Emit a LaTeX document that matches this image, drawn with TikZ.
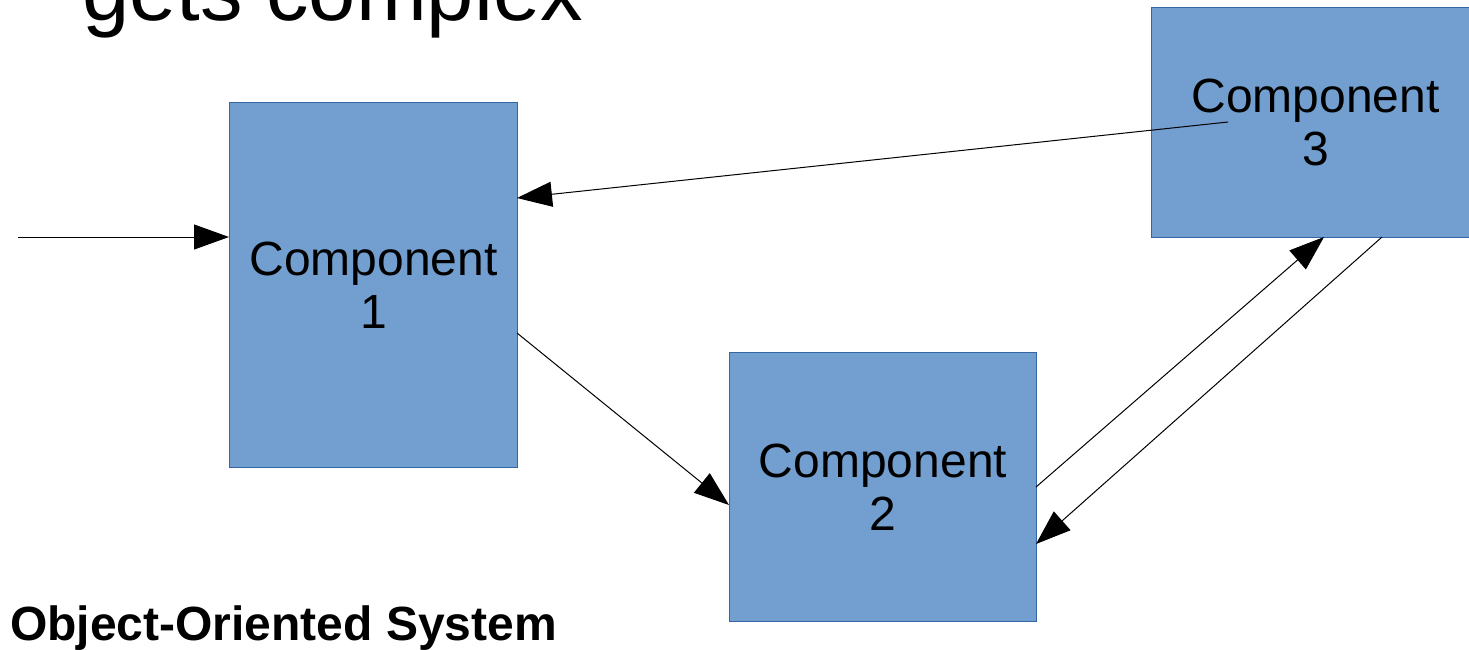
\documentclass[tikz,border=0pt]{standalone}
\usepackage{fontspec}
\setmainfont{Liberation Sans}
\usetikzlibrary{arrows.meta}
\definecolor{boxfill}{HTML}{729FCF}
\definecolor{boxline}{HTML}{3465A4}
\begin{document}
\begin{tikzpicture}[x=1pt,y=-1pt,
  comp/.style={draw=boxline,fill=boxfill,line width=1pt,inner sep=0pt,anchor=north west,
    align=center,font=\fontsize{48}{53}\selectfont},
  conn/.style={line width=1pt,-{Triangle[length=35pt,width=25pt]}}]
\useasboundingbox (0,0) rectangle (1469,649);
\node[anchor=base west,inner sep=0pt,font=\fontsize{85}{90}\selectfont] (title) at (82,20) {gets complex};
\node[comp,minimum width=288pt,minimum height=365pt] (c1) at (229,102) {Component\\1};
\node[comp,minimum width=307pt,minimum height=269pt] (c2) at (729,352) {Component\\2};
\node[comp,minimum width=328pt,minimum height=230pt] (c3) at (1151,7) {Component\\3};
\node[anchor=base west,inner sep=0pt,font=\fontsize{48}{53}\selectfont\bfseries] (sys) at (10,640) {Object-Oriented System};
\coordinate (in) at (18,237);
\coordinate (c1in) at (229,237);
\coordinate (c3a) at (1228,122);
\coordinate (c1b) at (517,198);
\coordinate (c1c) at (517,333);
\coordinate (c2a) at (729,505);
\coordinate (c2b) at (1036,487);
\coordinate (c3b) at (1324,237);
\coordinate (c3c) at (1382,237);
\coordinate (c2c) at (1036,544);
\draw[conn] (in) -- (c1in);
\draw[conn] (c3a) -- (c1b);
\draw[conn] (c1c) -- (c2a);
\draw[conn] (c2b) -- (c3b);
\draw[conn] (c3c) -- (c2c);
\end{tikzpicture}
\end{document}
